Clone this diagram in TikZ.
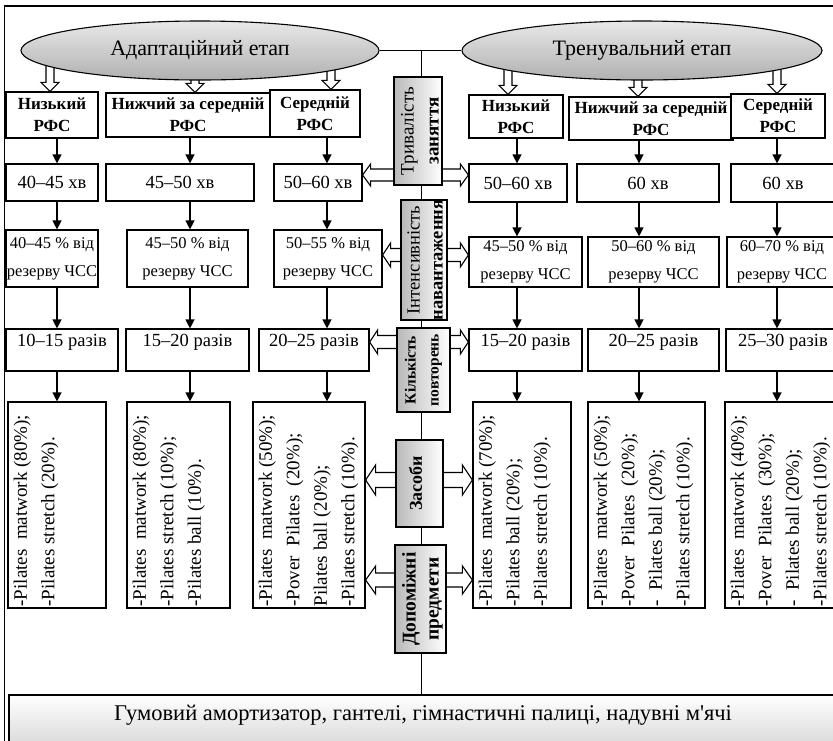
\documentclass[tikz,border=0pt]{standalone}
\usepackage{fontspec}
\setmainfont{Liberation Serif}[Ligatures=TeXOff]
\usetikzlibrary{calc,arrows.meta,shapes.geometric}

% hollow block arrow: #1 start coordinate, #2 tip coordinate, #3 shaft half width, #4 head half width, #5 head length
\newcommand\hollowarrow[5]{%
  \coordinate (hc) at ($(#2)!#5!(#1)$);
  \draw[hol] ($(#1)!#3!90:(#2)$) -- ($(hc)!#3!90:(#2)$) -- ($(hc)!#4!90:(#2)$) -- (#2)
    -- ($(hc)!#4!-90:(#2)$) -- ($(hc)!#3!-90:(#2)$) -- ($(#1)!#3!-90:(#2)$) -- cycle;}

% box from corners: name, x1, y1, x2, y2, style, text
\newcommand\bx[7]{\node[box,#6,minimum width={#4-#2},minimum height={#5-#3}] (#1) at ({(#2+#4)/2},{(#3+#5)/2}) {#7};}

\begin{document}
\begin{tikzpicture}[x=1pt,y=-1pt,
  box/.style={draw, line width=1.2pt, fill=white, inner sep=0pt, align=center},
  mbox/.style={draw, line width=1.2pt, left color=gray!55, right color=white, inner sep=0pt},
  ell/.style={ellipse, draw, line width=1.1pt, top color=gray!18, bottom color=gray!62, inner sep=0pt, font=\fontsize{22}{24}\selectfont},
  hol/.style={line width=1.1pt, fill=white, draw, line join=miter},
  arr/.style={line width=1.3pt, -{Triangle[length=9pt,width=9pt]}},
  lone/.style={font=\fontsize{17}{22}\selectfont\bfseries},
  ltwo/.style={font=\fontsize{18.5}{22}\selectfont},
  lthree/.style={font=\fontsize{16.5}{28}\selectfont},
  lfour/.style={font=\fontsize{18.5}{22}\selectfont, inner sep=0pt},
  ptext/.style={rotate=90, anchor=north west, align=left, inner sep=0pt, font=\fontsize{19}{27.5}\selectfont},
  mtext/.style={rotate=90, align=center, inner sep=0pt},
  bottombox/.style={draw, line width=1.2pt, top color=white, bottom color=gray!35, inner sep=0pt}
]
\useasboundingbox (0,0) rectangle (833,740);
\clip (0,0) rectangle (833,740);

% outer frame
\draw[line width=1.2pt] (845,6) -- (4.5,6) -- (4.5,750);

% bottom box
\node[bottombox, minimum width=840, minimum height=60] (BB) at (429,725) {};
\node[font=\fontsize{22.5}{24}\selectfont] (BBt) at (423,715) {Гумовий амортизатор, гантелі, гімнастичні палиці, надувні м'ячі};

% level 1
\bx{L1a}{6}{92}{98}{138}{lone}{Низький\\РФС}
\bx{L1b}{106}{93}{270}{137}{lone}{Нижчий за середній\\РФС}
\bx{L1c}{270}{90}{360}{137}{lone}{Середній\\РФС}
\bx{R1a}{469}{95}{563}{138}{lone}{Низький\\РФС}
\bx{R1b}{569}{97}{733}{140}{lone}{Нижчий за середній\\РФС}
\bx{R1c}{731}{94}{825}{138}{lone}{Середній\\РФС}

% level 2
\bx{L2a}{6}{164}{98}{201}{ltwo}{40–45 хв}
\bx{L2b}{106}{164}{254}{201}{ltwo}{45–50 хв}
\bx{L2c}{274}{164}{362}{201}{ltwo}{50–60 хв}
\bx{R2a}{469}{164}{567}{202}{ltwo}{50–60 хв}
\bx{R2b}{577}{164}{719}{202}{ltwo}{60 хв}
\bx{R2c}{731}{164}{835}{202}{ltwo}{60 хв}

% level 3
\bx{L3a}{6}{230}{98}{287}{lthree}{40–45 \% від\\резерву ЧСС}
\bx{L3b}{127}{230}{248}{287}{lthree}{45–50 \% від\\резерву ЧСС}
\bx{L3c}{274}{230}{382}{287}{lthree}{50–55 \% від\\резерву ЧСС}
\bx{R3a}{469}{237}{582}{287}{lthree}{45–50 \% від\\резерву ЧСС}
\bx{R3b}{588}{237}{719}{287}{lthree}{50–60 \% від\\резерву ЧСС}
\bx{R3c}{727}{237}{837}{287}{lthree}{60–70 \% від\\резерву ЧСС}

% level 4
\bx{L4a}{6}{329}{118}{371}{}{}
\bx{L4b}{126}{329}{249}{371}{}{}
\bx{L4c}{259}{329}{369}{371}{}{}
\bx{R4a}{469}{329}{582}{371}{}{}
\bx{R4b}{588}{329}{719}{371}{}{}
\bx{R4c}{726}{329}{840}{371}{}{}
\node[lfour] (L4at) at ($(L4a.north)+(0,14)$) {10–15 разів};
\node[lfour] (L4bt) at ($(L4b.north)+(0,14)$) {15–20 разів};
\node[lfour] (L4ct) at ($(L4c.north)+(0,14)$) {20–25 разів};
\node[lfour] (R4at) at ($(R4a.north)+(0,14)$) {15–20 разів};
\node[lfour] (R4bt) at ($(R4b.north)+(0,14)$) {20–25 разів};
\node[lfour] (R4ct) at ($(R4c.north)+(0,14)$) {25–30 разів};

% level 5
\bx{L5a}{8}{402}{106}{608}{}{}
\bx{L5b}{127}{402}{230}{608}{}{}
\bx{L5c}{253}{402}{365}{608}{}{}
\bx{R5a}{473}{402}{571}{608}{}{}
\bx{R5b}{588}{402}{705}{608}{}{}
\bx{R5c}{725}{402}{840}{608}{}{}
\node[ptext] (L5at) at ($(L5a.south west)+(6,-2)$) {-Pilates\ \ matwork (80\%);\\-Pilates stretch (20\%).};
\node[ptext] (L5bt) at ($(L5b.south west)+(6,-2)$) {-Pilates\ \ matwork (80\%);\\-Pilates stretch (10\%);\\-Pilates ball (10\%).};
\node[ptext] (L5ct) at ($(L5c.south west)+(6,-2)$) {-Pilates\ \ matwork (50\%);\\-Pover\ \ Pilates\ \ (20\%);\\Pilates ball (20\%);\\-Pilates stretch (10\%).};
\node[ptext] (R5at) at ($(R5a.south west)+(6,-2)$) {-Pilates\ \ matwork (70\%);\\-Pilates ball (20\%);\\-Pilates stretch (10\%).};
\node[ptext] (R5bt) at ($(R5b.south west)+(6,-2)$) {-Pilates\ \ matwork (50\%);\\-Pover\ \ Pilates\ \ (20\%);\\-\ \ Pilates ball (20\%);\\-Pilates stretch (10\%).};
\node[ptext] (R5ct) at ($(R5c.south west)+(6,-2)$) {-Pilates\ \ matwork (40\%);\\-Pover\ \ Pilates\ \ (30\%);\\-\ \ Pilates ball (20\%);\\-Pilates stretch (10\%).};

% spine
\coordinate (spine) at (421,50.5);
\draw[line width=1pt] (spine) -- (BB.north -| spine);

% hollow arrows from the stages
\coordinate (ea1) at (50,50);  \coordinate (ta1) at (L1a.north -| ea1);
\coordinate (ea2) at (195,50); \coordinate (ta2) at (L1b.north -| ea2);
\coordinate (ea3) at (331,50); \coordinate (ta3) at (L1c.north -| ea3);
\coordinate (eb1) at (508,50); \coordinate (tb1) at (R1a.north -| eb1);
\coordinate (eb2) at (638,50); \coordinate (tb2) at (R1b.north -| eb2);
\coordinate (eb3) at (777,50); \coordinate (tb3) at (R1c.north -| eb3);
\hollowarrow{ea1}{ta1}{4pt}{9pt}{9pt}
\hollowarrow{ea2}{ta2}{4pt}{9pt}{9pt}
\hollowarrow{ea3}{ta3}{4pt}{9pt}{9pt}
\hollowarrow{eb1}{tb1}{4pt}{9pt}{9pt}
\hollowarrow{eb2}{tb2}{4pt}{9pt}{9pt}
\hollowarrow{eb3}{tb3}{4pt}{9pt}{9pt}

% hollow arrows from the middle column
\coordinate (m1a) at (418,175); \coordinate (m1l) at (L2c.east |- m1a); \coordinate (m1r) at (R2a.west |- m1a);
\coordinate (m2a) at (424,255); \coordinate (m2l) at (L3c.east |- m2a); \coordinate (m2r) at (R3a.west |- m2a);
\coordinate (m3a) at (423,342); \coordinate (m3l) at (L4c.east |- m3a); \coordinate (m3r) at (R4a.west |- m3a);
\coordinate (m4a) at (420,480); \coordinate (m4l) at (L5c.east |- m4a); \coordinate (m4r) at (R5a.west |- m4a);
\coordinate (m5a) at (420,580); \coordinate (m5l) at (L5c.east |- m5a); \coordinate (m5r) at (R5a.west |- m5a);
\hollowarrow{m1a}{m1l}{6pt}{11pt}{8pt}
\hollowarrow{m1a}{m1r}{6pt}{11pt}{8pt}
\hollowarrow{m2a}{m2l}{6.5pt}{12pt}{8pt}
\hollowarrow{m2a}{m2r}{6.5pt}{12pt}{8pt}
\hollowarrow{m3a}{m3l}{6.5pt}{12pt}{8pt}
\hollowarrow{m3a}{m3r}{6.5pt}{12pt}{8pt}
\hollowarrow{m4a}{m4l}{7.5pt}{15pt}{10pt}
\hollowarrow{m4a}{m4r}{7.5pt}{15pt}{10pt}
\hollowarrow{m5a}{m5l}{7pt}{14pt}{10pt}
\hollowarrow{m5a}{m5r}{7pt}{14pt}{10pt}

% stage ellipses
\node[ell, minimum width=358, minimum height=59] (E1) at (200,50.5) {Адаптаційний етап};
\node[ell, minimum width=360, minimum height=59] (E2) at (642,50.5) {Тренувальний етап};
\draw[line width=1pt] (E1.east) -- (E2.west);

% middle column
\node[mbox, minimum width=48, minimum height=108] (M1) at (418,131) {};
\node[mbox, minimum width=46, minimum height=120] (M2) at (424,260) {};
\node[mbox, minimum width=53, minimum height=84] (M3) at (423.5,370) {};
\node[mbox, minimum width=47, minimum height=87] (M4) at (419.5,483.5) {};
\node[mbox, minimum width=51, minimum height=108] (M5) at (420.5,599) {};
\node[mtext, font=\fontsize{19}{25}\selectfont] (M1t) at ($(M1.center)+(2,0)$) {Тривалість\\\textbf{заняття}};
\node[mtext, font=\fontsize{18.5}{23}\selectfont] (M2t) at ($(M2.center)+(1,0)$) {Інтенсивність\\\textbf{навантаження}};
\node[mtext, font=\fontsize{15.5}{23}\selectfont\bfseries] (M3t) at (M3.center) {Кількість\\повторень};
\node[mtext, font=\fontsize{18}{23}\selectfont\bfseries] (M4t) at ($(M4.center)+(-4,0)$) {Засоби};
\node[mtext, font=\fontsize{19.5}{23}\selectfont\bfseries] (M5t) at ($(M5.center)+(2,0)$) {Допоміжні\\предмети};

% vertical arrows in the columns
\coordinate (c1) at (57,0);  \coordinate (c2) at (190,0); \coordinate (c3) at (327,0);
\coordinate (c4) at (517,0); \coordinate (c5) at (639,0); \coordinate (c6) at (777,0);
\foreach \c/\a/\b/\p/\q/\s in {c1/L1a/L2a/L3a/L4a/L5a, c2/L1b/L2b/L3b/L4b/L5b, c3/L1c/L2c/L3c/L4c/L5c,
                               c4/R1a/R2a/R3a/R4a/R5a, c5/R1b/R2b/R3b/R4b/R5b, c6/R1c/R2c/R3c/R4c/R5c}{
  \draw[arr] (\a.south -| \c) -- (\b.north -| \c);
  \draw[arr] (\b.south -| \c) -- (\p.north -| \c);
  \draw[arr] (\p.south -| \c) -- (\q.north -| \c);
  \draw[arr] (\q.south -| \c) -- (\s.north -| \c);
}
\end{tikzpicture}
\end{document}
